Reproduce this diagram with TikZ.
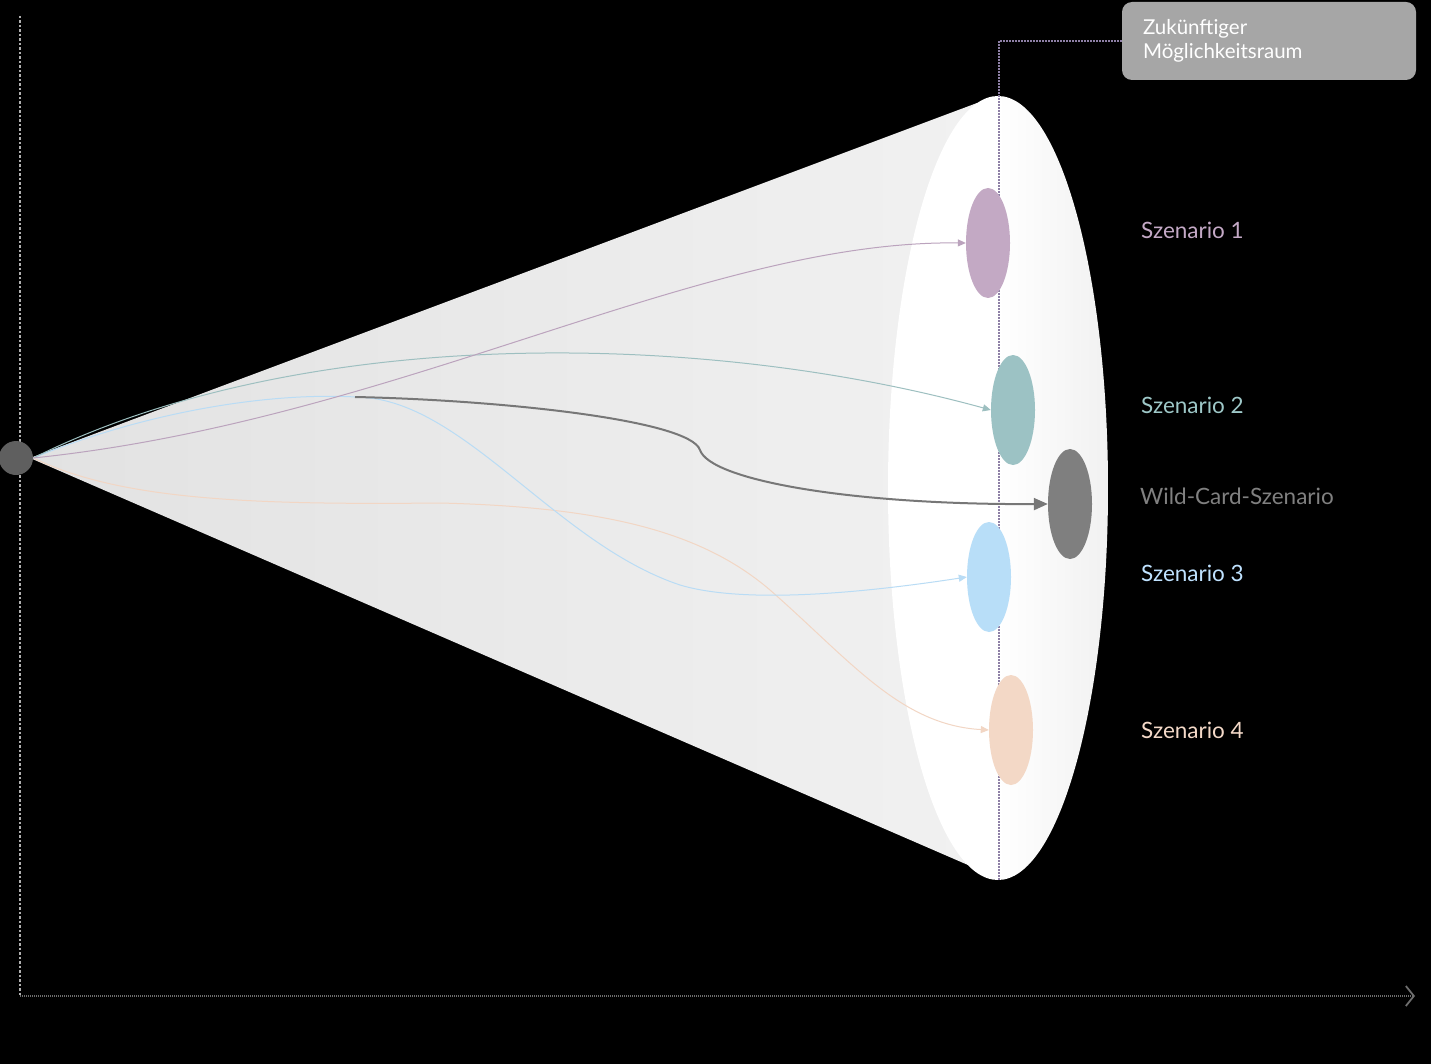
\documentclass[tikz,border=0pt]{standalone}
\usepackage{fontspec}
\setmainfont{Lato}
\usetikzlibrary{shapes.geometric,arrows.meta}

\definecolor{cpurple}{HTML}{C3A9C4}
\definecolor{cteal}{HTML}{9CC2C4}
\definecolor{cblue}{HTML}{B8DEF8}
\definecolor{corange}{HTML}{F3D8C6}
\definecolor{cwild}{HTML}{7F7F7F}
\definecolor{capex}{HTML}{5F5F5F}
\definecolor{cbox}{HTML}{A6A6A6}
\definecolor{cdot}{HTML}{8E80A6}
\definecolor{lpurple}{HTML}{BBA3BD}
\definecolor{lteal}{HTML}{9DBFC0}
\definecolor{lblue}{HTML}{B9DCF5}
\definecolor{lorange}{HTML}{F2D6C4}
\definecolor{lwild}{HTML}{777777}
\definecolor{tpurple}{HTML}{C4A9C6}
\definecolor{tteal}{HTML}{9EC8C8}
\definecolor{twild}{HTML}{808080}
\definecolor{tblue}{HTML}{BFE2FF}
\definecolor{torange}{HTML}{F4D9C8}
\definecolor{conel}{HTML}{E2E2E2}
\definecolor{coner}{HTML}{F1F1F1}
\definecolor{facer}{HTML}{F1F1F1}
\definecolor{vaxis}{HTML}{B0B0B0}
\definecolor{haxis}{HTML}{6E6E6E}

\begin{document}
\begin{tikzpicture}[x=1pt,y=-1pt,
  scen/.style={ellipse, minimum width=44pt, minimum height=110pt, inner sep=0pt, draw=none},
  thinpath/.style={line width=1pt, -{Triangle[length=8pt,width=7pt]}},
  wildpath/.style={line width=2pt, color=lwild, -{Triangle[length=14pt,width=12pt]}},
  lbl/.style={anchor=west, font=\fontsize{22.5}{26}\selectfont, inner sep=0pt},
  infobox/.style={fill=cbox, rounded corners=10pt, text=white, align=left,
    text width=252pt, inner xsep=21pt, minimum height=78pt,
    font=\fontsize{20.5}{24}\selectfont},
  guide/.style={color=cdot, line width=1.2pt, dash pattern=on 1.5pt off 1.5pt},
]
% background and bounding box
\fill[black] (0,0) rectangle (1431,1064);
\useasboundingbox (0,0) rectangle (1431,1064);

% axes
\draw[color=vaxis, line width=1.4pt, dash pattern=on 2.5pt off 2pt] (20,16) -- (20,996);
\draw[color=haxis, line width=1.3pt, dash pattern=on 1pt off 1pt,
  -{Straight Barb[length=8pt,width=20pt,line width=1.8pt]}] (20,996) -- (1415,996);

% cone body
\shade[left color=conel, right color=coner] (30,458) -- (977,103) -- (975,488) -- (968,865) -- cycle;
% cone face
\shade[left color=white, right color=facer, middle color=white] (998,488) ellipse [x radius=110, y radius=392];

% info box and guide line
\node[infobox] (box) at (1269,41) {Zukünftiger\\Möglichkeitsraum};
\coordinate (gend) at (999,880);
\draw[guide] (box.west) -| (gend);

% scenario ellipses
\node[scen, fill=cpurple] (s1) at (988,243) {};
\node[scen, fill=cteal] (s2) at (1013,410) {};
\node[scen, fill=cwild] (wc) at (1070,504) {};
\node[scen, fill=cblue] (s3) at (989,577) {};
\node[scen, fill=corange] (s4) at (1011,730) {};

% apex
\node[circle, fill=capex, minimum size=34pt, inner sep=0pt] (apex) at (16,458) {};
\coordinate (wcs) at (355,397);

% paths
\draw[thinpath, color=lorange] (apex.east) .. controls (120,500) and (250,505) .. (440,503)
  .. controls (600,507) and (700,530) .. (770,590)
  .. controls (850,660) and (900,725) .. (s4.west);
\draw[thinpath, color=lblue] (apex.east) .. controls (150,410) and (280,390) .. (370,398)
  .. controls (470,410) and (560,545) .. (680,585)
  .. controls (740,603) and (850,595) .. (s3.west);
\draw[thinpath, color=lteal] (apex.east) .. controls (300,325) and (700,330) .. (s2.west);
\draw[thinpath, color=lpurple] (apex.east) .. controls (400,420) and (700,240) .. (s1.west);
\draw[wildpath] (wcs) .. controls (500,400) and (690,420) .. (700,450)
  .. controls (710,480) and (850,505) .. (wc.west);

% labels
\node[lbl, text=tpurple] (l1) at (1141,230) {Szenario 1};
\node[lbl, text=tteal] (l2) at (1141,405) {Szenario 2};
\node[lbl, text=twild] (lw) at (1140,496) {Wild-Card-Szenario};
\node[lbl, text=tblue] (l3) at (1141,573) {Szenario 3};
\node[lbl, text=torange] (l4) at (1141,730) {Szenario 4};
\end{tikzpicture}
\end{document}
